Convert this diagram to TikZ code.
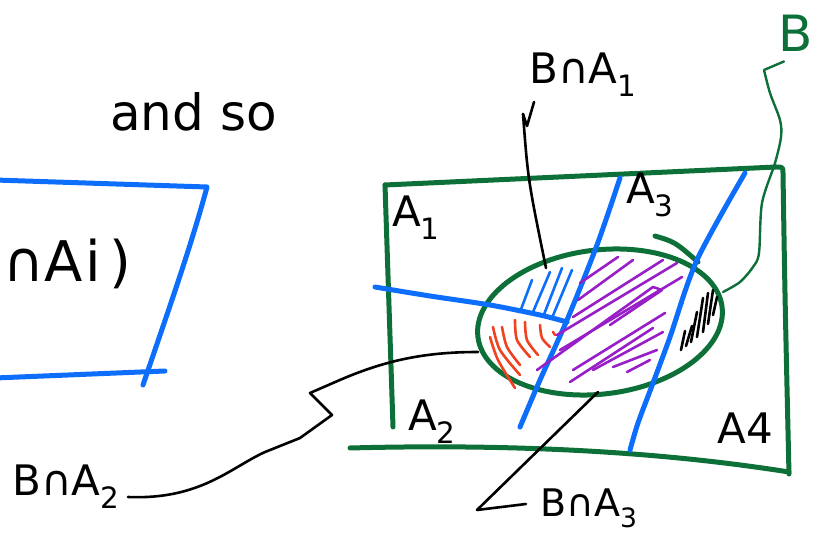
\documentclass[tikz,border=0pt]{standalone}
\usepackage{fontspec}
\setmainfont{DejaVu Sans}
\usetikzlibrary{shapes.geometric}
\definecolor{sgreen}{RGB}{12,112,56}
\definecolor{sblue}{RGB}{12,110,250}
\definecolor{sred}{RGB}{240,66,32}
\definecolor{spurple}{RGB}{152,30,200}
\tikzset{
  grn/.style={draw=sgreen, line width=5pt, line cap=round, line join=round},
  blu/.style={draw=sblue, line width=5pt, line cap=round, line join=round},
  hb/.style={draw=sblue, line width=2.6pt, line cap=round},
  hr/.style={draw=sred, line width=2.6pt, line cap=round},
  hp/.style={draw=spurple, line width=2.6pt, line cap=round, line join=round},
  hk/.style={draw=black, line width=2.6pt, line cap=round},
  ptr/.style={draw=black, line width=2.6pt, line cap=round, line join=round},
  lbl/.style={font=\fontsize{42}{46}\selectfont, inner sep=0pt},
}
\begin{document}
\begin{tikzpicture}[x=1pt,y=-1pt]
\useasboundingbox (0,0) rectangle (817,534);

% left part
\node[anchor=base west, inner sep=0pt, font=\fontsize{50}{56}\selectfont] (andso) at (110,131) {and so};
\draw[blu] (-5,180) -- (207,187)
  .. controls (190,250) and (165,320) .. (143,385);
\draw[blu] (-5,378) -- (165,371);
\node[anchor=base west, inner sep=0pt, font=\fontsize{56}{62}\selectfont] (ai) at (3,282) {∩A\hspace{3pt}i\hspace{8pt})};

% green rectangle
\draw[grn] (385,185) -- (393,427);
\draw[grn] (385,185) -- (776,167) .. controls (783,167) .. (783,174)
  .. controls (785,300) .. (789,474);
\draw[grn] (350,448) .. controls (500,444) and (650,450) .. (789,472);

% ellipse B
\node[draw=sgreen, line width=5pt, ellipse, minimum width=246pt, minimum height=144pt,
      inner sep=0pt, rotate=7] (B) at (600,322) {};
\draw[grn] (655,236) .. controls (675,242) .. (698,262);

% blue partition lines
\draw[blu] plot[smooth] coordinates {(375,287) (430,296) (490,305) (540,315) (567,322)};
\draw[blu] plot[smooth] coordinates {(620,178) (597,245) (567,320) (540,380) (520,427)};
\draw[blu] plot[smooth] coordinates {(745,173) (697,260) (670,337) (653,383) (638,423) (630,450)};

% blue hatches
\draw[hb] (520,312) -- (532,280);
\draw[hb] (533,312) -- (550,272);
\draw[hb] (543,317) -- (562,268);
\draw[hb] (552,318) -- (572,270);

% red hatches
\draw[hr] plot[smooth] coordinates {(490,337) (498,360) (515,388)};
\draw[hr] plot[smooth] coordinates {(493,327) (500,350) (520,375)};
\draw[hr] plot[smooth] coordinates {(502,327) (507,347) (520,365)};
\draw[hr] plot[smooth] coordinates {(515,320) (517,340) (530,357)};
\draw[hr] plot[smooth] coordinates {(525,322) (527,340) (538,355)};
\draw[hr] plot[smooth] coordinates {(540,325) (542,338) (550,347)};
\draw[hr] (553,332) -- (555,335);

% purple hatches
\draw[hp] (580,283) -- (618,257);
\draw[hp] (578,300) -- (633,260);
\draw[hp] (573,317) -- (663,260);
\draw[hp] (557,335) -- (677,263);
\draw[hp] (560,350) -- (682,277);
\draw[hp] (537,370) -- (653,287) -- (662,290) -- (610,325);
\draw[hp] (573,370) -- (665,313);
\draw[hp] (570,382) -- (653,328);
\draw[hp] (593,370) -- (663,332);
\draw[hp] (613,367) -- (657,350);
\draw[hp] (627,372) -- (650,360);

% black hatches
\draw[hk] (681,350) -- (685,331);
\draw[hk] (686,346) -- (692,326);
\draw[hk] (691,342) -- (697,312);
\draw[hk] (697,337) -- (703,298);
\draw[hk] (703,332) -- (708,293);
\draw[hk] (708,324) -- (713,290);
\draw[hk] (713,315) -- (717,297);

% region labels
\node[lbl] (a1) at (416,218) {A\textsubscript{1}};
\node[lbl] (a2) at (432,422) {A\textsubscript{2}};
\node[lbl] (a3) at (650,195) {A\textsubscript{3}};
\node[lbl] (a4) at (745,428) {A4};

% pointer labels
\node[lbl] (lba1) at (583,75) {B∩A\textsubscript{1}};
\node[lbl, anchor=west] (lba2) at (12,487) {B∩A\textsubscript{2}};
\node[lbl, anchor=west, font=\fontsize{38}{42}\selectfont] (lba3) at (540,508) {B∩A\textsubscript{3}};
\node[lbl, text=sgreen, font=\fontsize{50}{56}\selectfont] (lb) at (796,33) {B};

% pointers
\coordinate (p1) at (546,268);
\coordinate (p2) at (478,352);
\coordinate (p3) at (598,392);
\coordinate (pb) at (723,292);
\draw[ptr] ([shift={(5,5)}]lba1.south west) -- (527,126) -- (523,114);
\draw[ptr] (523,114) .. controls (528,180) .. (p1);
\draw[ptr] ([shift={(8,10)}]lba2.east) .. controls (200,500) and (230,468) .. (265,452)
  -- (300,438) -- (332,415) -- (310,393) -- (333,383)
  .. controls (380,362) and (420,352) .. (p2);
\draw[ptr] ([shift={(-14,-4)}]lba3.west) -- (477,510) -- (p3);
\draw[draw=sgreen, line width=2.4pt, line cap=round, line join=round]
  ([shift={(-12,10)}]lb.south) -- (764,70)
  plot[smooth] coordinates {(764,70) (770,93) (780,120) (781,137) (775,163) (762,203) (759,253) (753,267) (740,282) (pb)};
\end{tikzpicture}
\end{document}
